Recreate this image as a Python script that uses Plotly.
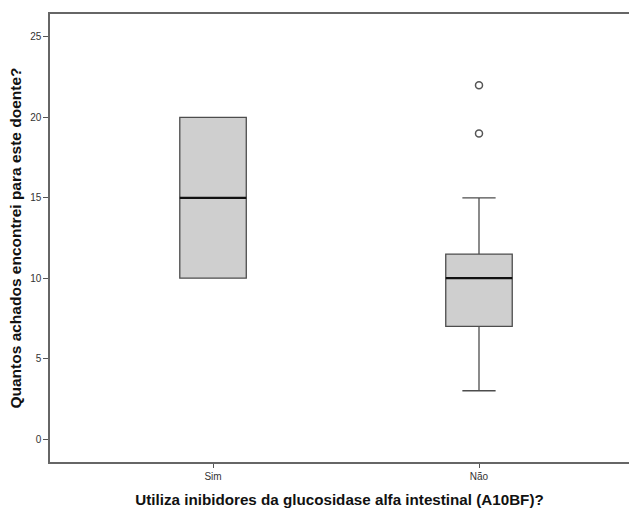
import plotly.graph_objects as go

# Summary statistics per group
categories = ["Sim", "Não"]
q1 = [10, 7]
medians = [15, 10]
q3 = [20, 11.5]
lower_whisker = [10, 3]
upper_whisker = [20, 15]
outliers = [[], [19, 22]]

y_ticks = [0, 5, 10, 15, 20, 25]

BOX_WIDTH = 0.25
positions = list(range(len(categories)))

fig = go.Figure()

fig.add_trace(go.Box(
    x=positions,
    q1=q1, median=medians, q3=q3,
    lowerfence=lower_whisker, upperfence=upper_whisker,
    width=BOX_WIDTH,
    whiskerwidth=0.5,
    fillcolor="#cfcfcf",
    line=dict(color="#4d4d4d", width=1.3),
    boxpoints=False,
    hoverinfo="skip",
    showlegend=False,
))

# Heavier median bars
for pos, med in zip(positions, medians):
    fig.add_trace(go.Scatter(
        x=[pos - BOX_WIDTH / 2, pos + BOX_WIDTH / 2], y=[med, med],
        mode="lines", line=dict(color="#111111", width=2.2),
        hoverinfo="skip", showlegend=False,
    ))

# Outlying cases
for pos, pts in zip(positions, outliers):
    if pts:
        fig.add_trace(go.Scatter(
            x=[pos] * len(pts), y=pts, mode="markers",
            marker=dict(symbol="circle-open", size=7,
                        line=dict(color="#555555", width=1.5), color="#555555"),
            hoverinfo="skip", showlegend=False,
        ))

fig.update_layout(
    width=629, height=510,
    margin=dict(l=50, r=0, t=14, b=48),
    paper_bgcolor="white", plot_bgcolor="white",
    font=dict(family="Liberation Sans, Arial, sans-serif", color="#333333"),
    showlegend=False,
)

fig.update_xaxes(
    range=[-0.613, 1.564],
    tickvals=positions, ticktext=categories,
    tickfont=dict(size=10, color="#333333"),
    ticks="outside", ticklen=4, tickcolor="#555555",
    showline=True, linecolor="#666666", linewidth=1.5, mirror=True,
    showgrid=False, zeroline=False,
    title=dict(text="<b>Utiliza inibidores da glucosidase alfa intestinal (A10BF)?</b>",
               font=dict(size=15.2, color="#111111"), standoff=14),
)

fig.update_yaxes(
    range=[-1.43, 26.43],
    tickvals=y_ticks,
    tickfont=dict(size=10, color="#333333"),
    ticks="outside", ticklen=5, tickcolor="#555555",
    showline=True, linecolor="#666666", linewidth=1.5,
    showgrid=False, zeroline=False,
    title=dict(text="<b>Quantos achados encontrei para este doente?</b>",
               font=dict(size=15.5, color="#111111"), standoff=5),
)

fig.write_html("out.html")
